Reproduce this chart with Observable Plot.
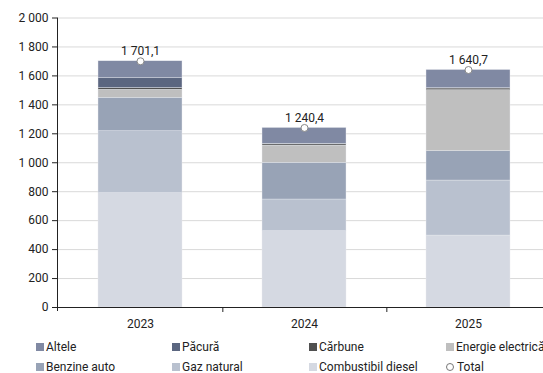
<!DOCTYPE html>
<html>
<head>
<meta charset="utf-8">
<script src="https://cdn.jsdelivr.net/npm/d3@7"></script>
<script src="https://cdn.jsdelivr.net/npm/@observablehq/plot@0.6"></script>
<style>
  html, body { margin: 0; padding: 0; background: #fff; overflow: hidden; }
  #wrap { position: relative; width: 543px; height: 373px; overflow: hidden; font-family: Roboto, "Noto Sans", sans-serif; }
  #chart { position: absolute; left: 0; top: 0; width: 551px; }
  #chart svg { max-width: none !important; width: 551px !important; height: 332px !important; }
  .legend { position: absolute; left: 0; top: 338px; width: 600px; font-size: 12px; color: #222; }
  .item { position: absolute; display: flex; align-items: center; white-space: nowrap; height: 16px; }
  .sw { width: 8px; height: 8px; margin-right: 2px; }
  .circ { width: 6px; height: 6px; border: 1px solid #777; border-radius: 50%; margin-right: 3px; background: #fff; }
</style>
</head>
<body>
<div id="wrap">
  <div id="chart"></div>
  <div class="legend" id="legend"></div>
</div>
<script>
const years = ["2023", "2024", "2025"];
const seriesNames = ["Combustibil diesel", "Gaz natural", "Benzine auto", "Energie electrică", "Cărbune", "Păcură", "Altele"];
const seriesColors = ["#d5d9e2", "#b9c1cf", "#98a3b6", "#bfbfbf", "#505050", "#5b6680", "#8089a3"];
const diesel   = [790, 527, 497];
const gaz      = [428, 219, 380];
const benzine  = [231, 254, 203];
const energie  = [55, 119, 421];
const carbune  = [12, 10, 12];
const pacura   = [68, 2, 2];
const altele   = [117.1, 109.4, 125.7];
const totals   = [1701.1, 1240.4, 1640.7];
const yTicks   = [0, 200, 400, 600, 800, 1000, 1200, 1400, 1600, 1800, 2000];
const legendOrder = ["Altele", "Păcură", "Cărbune", "Energie electrică", "Benzine auto", "Gaz natural", "Combustibil diesel", "Total"];

const valuesBySeries = [diesel, gaz, benzine, energie, carbune, pacura, altele];
const rows = [];
seriesNames.forEach((s, i) => years.forEach((y, j) => rows.push({year: y, series: s, value: valuesBySeries[i][j]})));
const totalRows = years.map((y, j) => ({year: y, total: totals[j]}));

const loc = d3.formatLocale({decimal: ",", thousands: "\u00a0", grouping: [3], currency: ["", ""]});
const fmtInt = loc.format(",d");
const fmtDec = loc.format(",.1f");

const W = 551, H = 332;
const step = (W - 57) / years.length;
const chart = Plot.plot({
  width: W, height: H,
  marginLeft: 57, marginRight: 0, marginTop: 17.5, marginBottom: 25,
  style: {fontFamily: "Roboto, 'Noto Sans', sans-serif", fontSize: "12px", color: "#222", background: "transparent", maxWidth: "none"},
  x: {domain: years, paddingInner: 0.49, paddingOuter: 0.245, label: null, axis: null},
  y: {domain: [0, 2000], label: null, axis: null},
  color: {domain: seriesNames, range: seriesColors},
  marks: [
    Plot.ruleY(yTicks.filter(d => d > 0), {stroke: "#d9d9d9", strokeWidth: 1}),
    Plot.barY(rows, Plot.stackY({x: "year", y: "value", fill: "series", order: seriesNames, stroke: "#e8eaef", strokeWidth: 0.4})),
    Plot.ruleY([0], {stroke: "#222", strokeWidth: 1}),
    Plot.axisY({ticks: yTicks, tickFormat: fmtInt, tickSize: 5, tickPadding: 4, stroke: "#222", fill: "#222", fontSize: 12}),
    Plot.axisX({tickSize: 0, tickPadding: 12, fill: "#222", fontSize: 12}),
    Plot.ruleX(["2023", "2024"], {x: d => d, dx: step / 2, y1: 0, y2: 0, insetBottom: -5, stroke: "#222"}),
    Plot.dot(totalRows, {x: "year", y: "total", r: 3.5, fill: "#fff", stroke: "#888", strokeWidth: 1}),
    Plot.text(totalRows, {x: "year", y: "total", text: d => fmtDec(d.total).replace(/\u00a0/g, " "), dy: -10, fill: "#222", fontSize: 12})
  ]
});
document.getElementById("chart").appendChild(chart);

// vertical y axis line
const svg = d3.select(chart);
svg.append("line").attr("x1", 57.5).attr("x2", 57.5).attr("y1", 17.5).attr("y2", 311).attr("stroke", "#222");

const legend = document.getElementById("legend");
const colX = [36, 172, 309, 446];
legendOrder.forEach((name, i) => {
  const col = i % 4, row = Math.floor(i / 4);
  const item = document.createElement("div");
  item.className = "item";
  item.style.left = colX[col] + "px";
  item.style.top = (row * 20 + 1) + "px";
  const sw = document.createElement("span");
  if (name === "Total") {
    sw.className = "circ";
  } else {
    sw.className = "sw";
    sw.style.background = seriesColors[seriesNames.indexOf(name)];
  }
  item.appendChild(sw);
  item.appendChild(document.createTextNode(name));
  legend.appendChild(item);
});
</script>
</body>
</html>
